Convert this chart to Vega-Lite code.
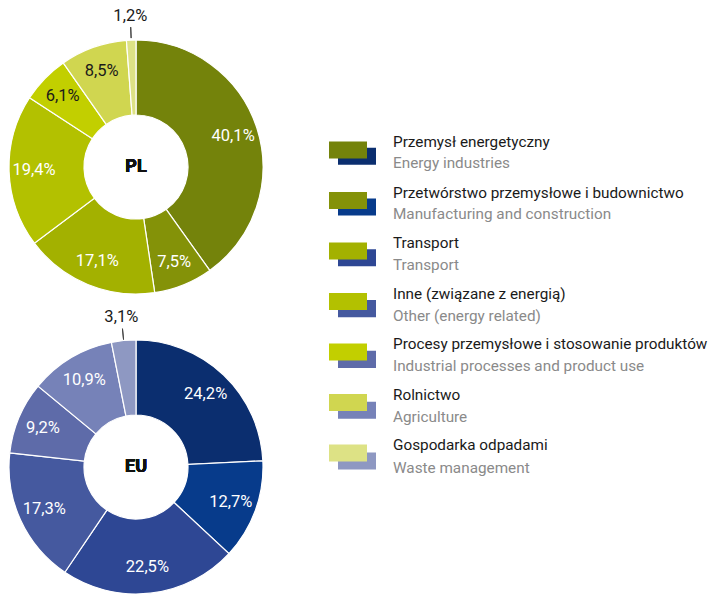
{
  "$schema": "https://vega.github.io/schema/vega-lite/v6.json",
  "padding": 0,
  "background": "white",
  "bounds": "flush",
  "spacing": 6,
  "config": {"view": {"stroke": null}, "font": "Roboto"},
  "datasets": {
    "em": [
      {"region": "PL", "ord": 1, "pl": "Przemysł energetyczny", "en": "Energy industries", "value": 40.1, "label": "40,1%"},
      {"region": "PL", "ord": 2, "pl": "Przetwórstwo przemysłowe i budownictwo", "en": "Manufacturing and construction", "value": 7.5, "label": "7,5%"},
      {"region": "PL", "ord": 3, "pl": "Transport", "en": "Transport", "value": 17.1, "label": "17,1%"},
      {"region": "PL", "ord": 4, "pl": "Inne (związane z energią)", "en": "Other (energy related)", "value": 19.4, "label": "19,4%"},
      {"region": "PL", "ord": 5, "pl": "Procesy przemysłowe i stosowanie produktów", "en": "Industrial processes and product use", "value": 6.1, "label": "6,1%"},
      {"region": "PL", "ord": 6, "pl": "Rolnictwo", "en": "Agriculture", "value": 8.5, "label": "8,5%"},
      {"region": "PL", "ord": 7, "pl": "Gospodarka odpadami", "en": "Waste management", "value": 1.2, "label": "1,2%"},
      {"region": "EU", "ord": 1, "pl": "Przemysł energetyczny", "en": "Energy industries", "value": 24.2, "label": "24,2%"},
      {"region": "EU", "ord": 2, "pl": "Przetwórstwo przemysłowe i budownictwo", "en": "Manufacturing and construction", "value": 12.7, "label": "12,7%"},
      {"region": "EU", "ord": 3, "pl": "Transport", "en": "Transport", "value": 22.5, "label": "22,5%"},
      {"region": "EU", "ord": 4, "pl": "Inne (związane z energią)", "en": "Other (energy related)", "value": 17.3, "label": "17,3%"},
      {"region": "EU", "ord": 5, "pl": "Procesy przemysłowe i stosowanie produktów", "en": "Industrial processes and product use", "value": 9.2, "label": "9,2%"},
      {"region": "EU", "ord": 6, "pl": "Rolnictwo", "en": "Agriculture", "value": 10.9, "label": "10,9%"},
      {"region": "EU", "ord": 7, "pl": "Gospodarka odpadami", "en": "Waste management", "value": 3.1, "label": "3,1%"}
    ]
  },
  "vconcat": [
    {
      "width": 272,
      "height": 334,
      "data": {"name": "em"},
      "transform": [{"filter": "datum.region == 'PL'"}],
      "encoding": {
        "theta": {"field": "value", "type": "quantitative", "stack": true},
        "order": {"field": "ord", "type": "quantitative"}
      },
      "layer": [
        {
          "mark": {"type": "arc", "innerRadius": 52, "outerRadius": 127, "opacity": 0},
          "encoding": {
            "fill": {
              "field": "en", "type": "nominal",
              "scale": {
                "domain": ["Energy industries", "Manufacturing and construction", "Transport", "Other (energy related)", "Industrial processes and product use", "Agriculture", "Waste management"],
                "range": ["#0b2e6f", "#073b8b", "#2e4794", "#45599f", "#5e6ba9", "#7682b8", "#8e98c2"]
              },
              "legend": {
                "orient": "none", "legendX": 338, "legendY": 137.2, "title": null, "padding": 0, "zindex": 1,
                "symbolType": "M-1,-0.45H1V0.45H-1Z", "symbolSize": 1444, "symbolStrokeWidth": 0, "symbolOpacity": 1,
                "labelFont": "Roboto", "labelFontSize": 15.3, "labelColor": "#8a8a8a", "labelOffset": 17,
                "labelBaseline": "top", "rowPadding": 15.8, "labelLimit": 400
              }
            }
          }
        },
        {
          "mark": {"type": "arc", "innerRadius": 52, "outerRadius": 127, "stroke": "white", "strokeWidth": 1.2},
          "encoding": {
            "color": {
              "field": "pl", "type": "nominal",
              "scale": {
                "domain": ["Przemysł energetyczny", "Przetwórstwo przemysłowe i budownictwo", "Transport", "Inne (związane z energią)", "Procesy przemysłowe i stosowanie produktów", "Rolnictwo", "Gospodarka odpadami"],
                "range": ["#74830b", "#849208", "#a3b100", "#b3c100", "#c2cf00", "#d0d650", "#dde285"]
              },
              "legend": {
                "orient": "none", "legendX": 329, "legendY": 131, "title": null, "padding": 0, "zindex": 2,
                "symbolType": "M-1,-0.45H1V0.45H-1Z", "symbolSize": 1444, "symbolStrokeWidth": 0, "symbolOpacity": 1,
                "labelFont": "Roboto", "labelFontSize": 15.3, "labelColor": "#1a1a1a", "labelOffset": 26,
                "labelBaseline": "bottom", "rowPadding": 22.5, "labelLimit": 400
              }
            }
          }
        },
        {
          "mark": {"type": "arc", "innerRadius": {"expr": "datum.ord == 7 ? 129 : 0"}, "outerRadius": {"expr": "datum.ord == 7 ? 140 : 0"}, "padAngle": 0.3, "fill": "transparent", "stroke": "#444", "strokeWidth": 1},
          "encoding": {"strokeOpacity": {"condition": {"test": "datum.ord == 7", "value": 1}, "value": 0}}
        },
        {
          "mark": {"type": "text", "radius": {"expr": "datum.ord == 7 ? 151 : 102"}, "fontSize": 16.5},
          "encoding": {
            "text": {"field": "label"},
            "color": {"condition": {"test": "datum.ord >= 5", "value": "#1a1a1a"}, "value": "white"}
          }
        },
        {
          "mark": {"type": "text", "fontSize": 18, "fontWeight": "bold", "color": "#111"},
          "encoding": {"theta": null, "order": null, "text": {"value": "PL"}}
        }
      ]
    },
    {
      "width": 272,
      "height": 254,
      "data": {"name": "em"},
      "transform": [{"filter": "datum.region == 'EU'"}],
      "encoding": {
        "theta": {"field": "value", "type": "quantitative", "stack": true},
        "order": {"field": "ord", "type": "quantitative"}
      },
      "layer": [
        {
          "mark": {"type": "arc", "innerRadius": 52, "outerRadius": 127, "stroke": "white", "strokeWidth": 1.2},
          "encoding": {
            "color": {
              "field": "en", "type": "nominal",
              "scale": {
                "domain": ["Energy industries", "Manufacturing and construction", "Transport", "Other (energy related)", "Industrial processes and product use", "Agriculture", "Waste management"],
                "range": ["#0b2e6f", "#073b8b", "#2e4794", "#45599f", "#5e6ba9", "#7682b8", "#8e98c2"]
              },
              "legend": null
            }
          }
        },
        {
          "mark": {"type": "arc", "innerRadius": {"expr": "datum.ord == 7 ? 128 : 0"}, "outerRadius": {"expr": "datum.ord == 7 ? 139 : 0"}, "padAngle": 0.3, "fill": "transparent", "stroke": "#444", "strokeWidth": 1},
          "encoding": {"strokeOpacity": {"condition": {"test": "datum.ord == 7", "value": 1}, "value": 0}}
        },
        {
          "mark": {"type": "text", "radius": {"expr": "datum.ord == 7 ? 151 : 101"}, "fontSize": 16.5},
          "encoding": {
            "text": {"field": "label"},
            "color": {"condition": {"test": "datum.ord == 7", "value": "#1a1a1a"}, "value": "white"}
          }
        },
        {
          "mark": {"type": "text", "fontSize": 18, "fontWeight": "bold", "color": "#111"},
          "encoding": {"theta": null, "order": null, "text": {"value": "EU"}}
        }
      ]
    }
  ],
  "resolve": {"scale": {"color": "independent", "theta": "independent", "fill": "independent"}, "legend": {"color": "independent"}}
}
